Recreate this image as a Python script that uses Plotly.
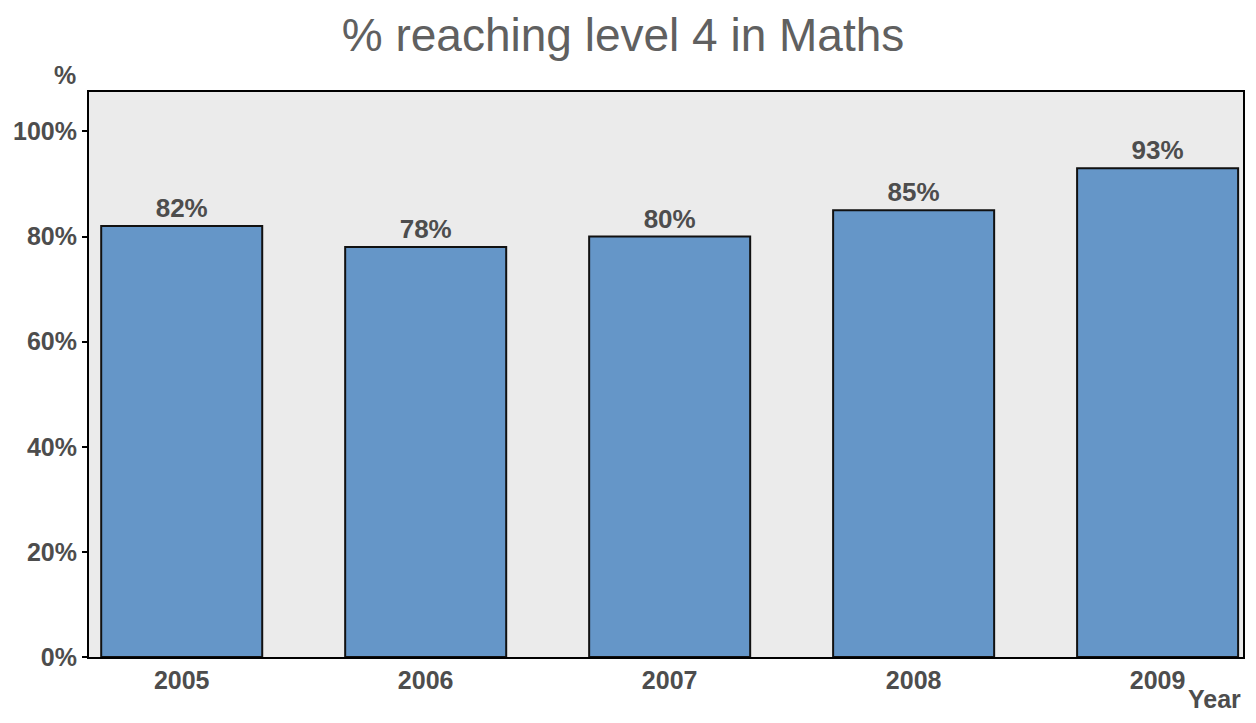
import plotly.graph_objects as go

years = ["2005", "2006", "2007", "2008", "2009"]
pct = [82, 78, 80, 85, 93]
labels = [f"{v}%" for v in pct]
y_ticks = [0, 20, 40, 60, 80, 100]
y_tick_text = [f"{v}%" for v in y_ticks]

txt = "#4D4D4D"
font = "Liberation Sans, Arial, sans-serif"

fig = go.Figure()
fig.add_trace(go.Bar(
    x=list(range(len(years))), y=pct,
    text=labels, textposition="outside", cliponaxis=False,
    textfont=dict(family=font, size=26, color=txt, weight="bold"),
    marker=dict(color="#6596C8", line=dict(color="#111111", width=2)),
    width=0.66,
))

# page is offset by the 8px body margin, so the figure is a bit smaller
fig.update_layout(
    width=1240, height=707,
    paper_bgcolor="white", plot_bgcolor="#EBEBEB",
    margin=dict(l=81, r=3, t=84, b=58),
    showlegend=False,
    title=dict(text="% reaching level 4 in Maths", x=0.496, xanchor="center",
               y=0.962, yanchor="middle",
               font=dict(family=font, size=46, color="#606060")),
    font=dict(family=font, color=txt),
)
fig.update_xaxes(
    tickmode="array", tickvals=list(range(len(years))), ticktext=years,
    range=[-0.38, 4.35], showgrid=False, zeroline=False,
    showline=True, linecolor="black", linewidth=2, mirror=True,
    ticks="", tickfont=dict(family=font, size=25, color=txt, weight="bold"),
)
fig.update_yaxes(
    range=[0, 107.5], tickvals=y_ticks, ticktext=y_tick_text,
    showgrid=False, zeroline=False,
    showline=True, linecolor="black", linewidth=2, mirror=True,
    ticks="outside", ticklen=5, tickcolor="black", tickwidth=2,
    tickfont=dict(family=font, size=25, color=txt, weight="bold"),
)
fig.add_annotation(text="%", xref="paper", yref="paper", x=-0.0095, y=1.03,
                   xanchor="right", yanchor="middle", showarrow=False,
                   font=dict(family=font, size=25, color=txt, weight="bold"))
fig.add_annotation(text="Year", xref="paper", yref="paper", x=0.999, y=-0.074,
                   xanchor="right", yanchor="middle", showarrow=False,
                   borderpad=0,
                   font=dict(family=font, size=25, color=txt, weight="bold"))

fig.write_html("out.html")
